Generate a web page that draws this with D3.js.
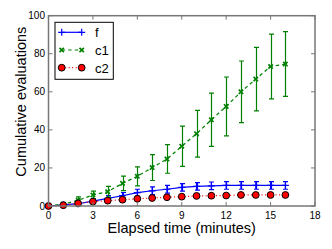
<!DOCTYPE html>
<html><head><meta charset="utf-8">
<script src="https://cdn.jsdelivr.net/npm/d3@7"></script>
<style>body{margin:0;background:#fff;} svg{display:block;font-family:"Liberation Sans",Arial,sans-serif;}</style>
</head><body>
<script>
const xs = [0,1,2,3,4,5,6,7,8,9,10,11,12,13,14,15,16];
const fVals  = [0,0.6,1.2,2.6,4,5.4,7,8,8.8,9.8,10.3,10.6,10.8,10.8,10.8,10.8,10.8];
const fErr   = [0,0.5,0.8,1.2,1.5,1.7,1.8,2,2,2,2,2,2,2,2,2,2];
const c1Vals = [0,1,3,5.8,7.5,11.9,15.6,20.2,24.7,31.4,38,45.3,52.3,60,66.7,73.3,74.6];
const c1Err  = [0,0.8,1.8,2,2.8,3.8,5,6.8,7.5,10.6,12.3,14,15.5,16.2,16.7,17,17];
const c2Vals = [0,0.4,1.4,2.3,2.8,3.3,3.8,4.2,4.6,4.9,5.3,5.4,5.5,5.8,5.8,5.8,5.8];
const c2Err  = [0,0.3,0.5,0.6,0.6,0.7,0.7,0.8,0.8,0.8,0.8,0.8,0.8,0.8,0.8,0.8,0.8];
const xTicks = [0,3,6,9,12,15,18];
const yTicks = [0,20,40,60,80,100];
const seriesNames = ["f","c1","c2"];

const W=332,H=249;
const m={l:48.5,r:315,t:15.7,b:206};
const svg=d3.select("body").append("svg").attr("width",W).attr("height",H);
const x=d3.scaleLinear().domain([0,18]).range([m.l,m.r]);
const y=d3.scaleLinear().domain([0,100]).range([m.b,m.t]);

const series=[
  {name:seriesNames[0],vals:fVals,err:fErr,color:"#0000ff",dash:null,marker:"plus"},
  {name:seriesNames[1],vals:c1Vals,err:c1Err,color:"#008000",dash:"3.5,3",marker:"x"},
  {name:seriesNames[2],vals:c2Vals,err:c2Err,color:"#ff0000",dash:"1,2.5",marker:"circle"}
];

const line=d3.line().x(d=>x(d[0])).y(d=>y(d[1]));
function drawMarker(g,type,color,cx,cy){
  if(type==="plus"){
    g.append("path").attr("d",`M${cx-3.5},${cy}H${cx+3.5}M${cx},${cy-3.5}V${cy+3.5}`).attr("stroke",color).attr("stroke-width",1.2);
  } else if(type==="x"){
    g.append("path").attr("d",`M${cx-2.2},${cy-2.2}L${cx+2.2},${cy+2.2}M${cx-2.2},${cy+2.2}L${cx+2.2},${cy-2.2}`).attr("stroke",color).attr("stroke-width",1.7);
  } else {
    g.append("circle").attr("cx",cx).attr("cy",cy).attr("r",3.4).attr("fill",color).attr("stroke","#000").attr("stroke-width",1);
  }
}

const plot=svg.append("g");
series.forEach(s=>{
  const pts=xs.map((xv,i)=>[xv,s.vals[i]]);
  plot.append("path").attr("d",line(pts)).attr("fill","none").attr("stroke",s.color).attr("stroke-width",1.2).attr("stroke-dasharray",s.dash);
  const eb=plot.append("g");
  xs.forEach((xv,i)=>{
    const e=s.err[i]; if(!e) return;
    const px=Math.round(x(xv))+0.5, y1=y(s.vals[i]+e), y0=y(s.vals[i]-e);
    eb.append("path").attr("d",`M${px},${y1}V${y0}M${px-2.5},${y1}H${px+2.5}M${px-2.5},${y0}H${px+2.5}`).attr("stroke",s.color).attr("stroke-width",1.2).attr("fill","none");
  });
  const mk=plot.append("g");
  xs.forEach((xv,i)=>drawMarker(mk,s.marker,s.color,x(xv),y(s.vals[i])));
});

// frame
svg.append("rect").attr("x",m.l).attr("y",m.t).attr("width",m.r-m.l).attr("height",m.b-m.t).attr("fill","none").attr("stroke","#777").attr("stroke-width",1.5);
// ticks
const tk=svg.append("g").attr("stroke","#777").attr("stroke-width",1);
xTicks.forEach(t=>{tk.append("path").attr("d",`M${x(t)},${m.b}v-4M${x(t)},${m.t}v4`);});
yTicks.forEach(t=>{tk.append("path").attr("d",`M${m.l},${y(t)}h4M${m.r},${y(t)}h-4`);});
const xa=svg.append("g").attr("font-size",10).attr("fill","#000");
xTicks.forEach(t=>xa.append("text").attr("x",x(t)).attr("y",219).attr("text-anchor","middle").text(t));
yTicks.forEach(t=>xa.append("text").attr("x",45).attr("y",y(t)+3.5).attr("text-anchor","end").text(t));

svg.append("text").attr("x",(m.l+m.r)/2).attr("y",232.5).attr("text-anchor","middle").attr("font-size",14.5).text("Elapsed time (minutes)");
svg.append("text").attr("transform",`translate(26,101.7) rotate(-90)`).attr("text-anchor","middle").attr("font-size",14.5).text("Cumulative evaluations");

// legend
const lg=svg.append("g");
lg.append("rect").attr("x",55).attr("y",22.3).attr("width",58.3).attr("height",57).attr("fill","#fff").attr("stroke","#000").attr("stroke-width",1);
series.forEach((s,i)=>{
  const ly=32.3+i*17.7;
  lg.append("path").attr("d",`M61.7,${ly}H81.7`).attr("stroke",s.color).attr("stroke-width",1.2).attr("stroke-dasharray",s.dash);
  drawMarker(lg,s.marker,s.color,61.7,ly);
  drawMarker(lg,s.marker,s.color,81.7,ly);
  lg.append("text").attr("x",95).attr("y",ly+4.8).attr("font-size",13).text(s.name);
});
</script>
</body></html>
